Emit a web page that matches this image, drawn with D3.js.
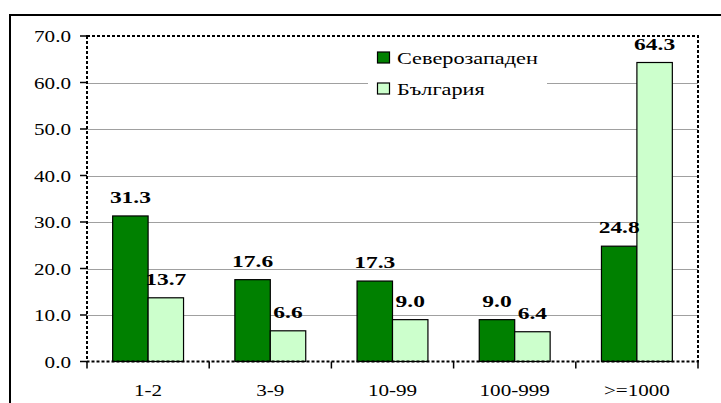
<!DOCTYPE html>
<html><head><meta charset="utf-8">
<script src="https://cdn.jsdelivr.net/npm/d3@7/dist/d3.min.js"></script>
<style>html,body{margin:0;padding:0;background:#fff;overflow:hidden}</style>
</head><body>
<svg id="c" width="721" height="403"></svg>
<script>
const categories = ["1-2", "3-9", "10-99", "100-999", ">=1000"];
const seriesNames = ["Северозападен", "България"];
const severozapaden = [31.3, 17.6, 17.3, 9.0, 24.8];
const bulgaria = [13.7, 6.6, 9.0, 6.4, 64.3];
const yTicks = [0, 10, 20, 30, 40, 50, 60, 70];
const colors = ["#008000", "#CCFFCC"];

const seriesValues = [severozapaden, bulgaria];
const svg = d3.select("#c");
const FONT = "Liberation Serif";
const SX = 1.28;

// outer frame
svg.append("rect").attr("x", 10).attr("y", 15).attr("width", 730).attr("height", 420)
  .attr("fill", "none").attr("stroke", "#000").attr("stroke-width", 2);

const L = 87, R = 698, T = 36, B = 361.5;
const x0 = d3.scaleBand().domain(categories).range([L, R]).padding(0);
const groupW = x0.bandwidth() * 0.58;
const x1 = d3.scaleBand().domain(seriesNames).range([-groupW / 2, groupW / 2]).padding(0);
const y = d3.scaleLinear().domain([0, 70]).range([B, T]);

// gridlines
svg.append("g").selectAll("line").data(yTicks.filter(v => v > 0 && v < 70)).join("line")
  .attr("x1", L).attr("x2", R).attr("y1", d => Math.round(y(d)) + 0.5).attr("y2", d => Math.round(y(d)) + 0.5)
  .attr("stroke", "#a0a0a0").attr("stroke-width", 1);

// legend
const lg = svg.append("g");
lg.append("rect").attr("x", 368).attr("y", 40).attr("width", 179).attr("height", 62).attr("fill", "#fff");
seriesNames.forEach((s, i) => {
  const yy = 52 + i * 31;
  lg.append("rect").attr("x", 377.5).attr("y", yy).attr("width", 12).attr("height", 11)
    .attr("fill", colors[i]).attr("stroke", "#000").attr("stroke-width", 1.2);
  lg.append("g").attr("transform", `translate(397,${yy + 11.5}) scale(1.35,1)`)
    .append("text").attr("font-family", FONT).attr("font-size", 16.5).attr("fill", "#000").text(s);
});

// bars
const groups = svg.append("g").selectAll("g").data(categories).join("g")
  .attr("transform", d => `translate(${x0(d) + x0.bandwidth() / 2},0)`);
groups.selectAll("rect").data((d, i) => seriesNames.map((s, j) => ({s, v: seriesValues[j][i], j})))
  .join("rect")
  .attr("x", d => x1(d.s)).attr("width", x1.bandwidth())
  .attr("y", d => y(d.v)).attr("height", d => y(0) - y(d.v))
  .attr("fill", d => colors[d.j]).attr("stroke", "#000").attr("stroke-width", 1.2);

// value labels
groups.selectAll("g.lbl").data((d, i) => seriesNames.map((s, j) => ({s, v: seriesValues[j][i], j})))
  .join("g").attr("class", "lbl")
  .attr("transform", d => `translate(${x1(d.s) + x1.bandwidth() / 2},${y(d.v) - 13}) scale(1.38,1)`)
  .append("text").attr("text-anchor", "middle").attr("font-family", FONT)
  .attr("font-weight", "bold").attr("font-size", 17).attr("fill", "#000")
  .text(d => d.v.toFixed(1));

// plot area border (dashed)
svg.append("rect").attr("x", L).attr("y", T).attr("width", R - L).attr("height", B - T)
  .attr("fill", "none").attr("stroke", "#000").attr("stroke-width", 2).attr("stroke-dasharray", "3,2");

// y axis ticks + labels
const ya = svg.append("g");
yTicks.forEach(v => {
  ya.append("line").attr("x1", 80).attr("x2", L).attr("y1", y(v)).attr("y2", y(v))
    .attr("stroke", "#000").attr("stroke-width", 1.5);
  ya.append("g").attr("transform", `translate(71,${y(v) + 6}) scale(${SX},1)`)
    .append("text").attr("text-anchor", "end").attr("font-family", FONT).attr("font-size", 16.5)
    .attr("fill", "#000").text(v.toFixed(1));
});

// x axis ticks + labels
const xa = svg.append("g");
const bounds = categories.map(c => x0(c)).concat([R]);
bounds.forEach(bx => {
  xa.append("line").attr("x1", bx).attr("x2", bx).attr("y1", B).attr("y2", B + 7)
    .attr("stroke", "#000").attr("stroke-width", 1.5);
});
categories.forEach(c => {
  xa.append("g").attr("transform", `translate(${x0(c) + x0.bandwidth() / 2},396) scale(${SX},1)`)
    .append("text").attr("text-anchor", "middle").attr("font-family", FONT).attr("font-size", 16.5)
    .attr("fill", "#000").text(c);
});
</script>
</body></html>
